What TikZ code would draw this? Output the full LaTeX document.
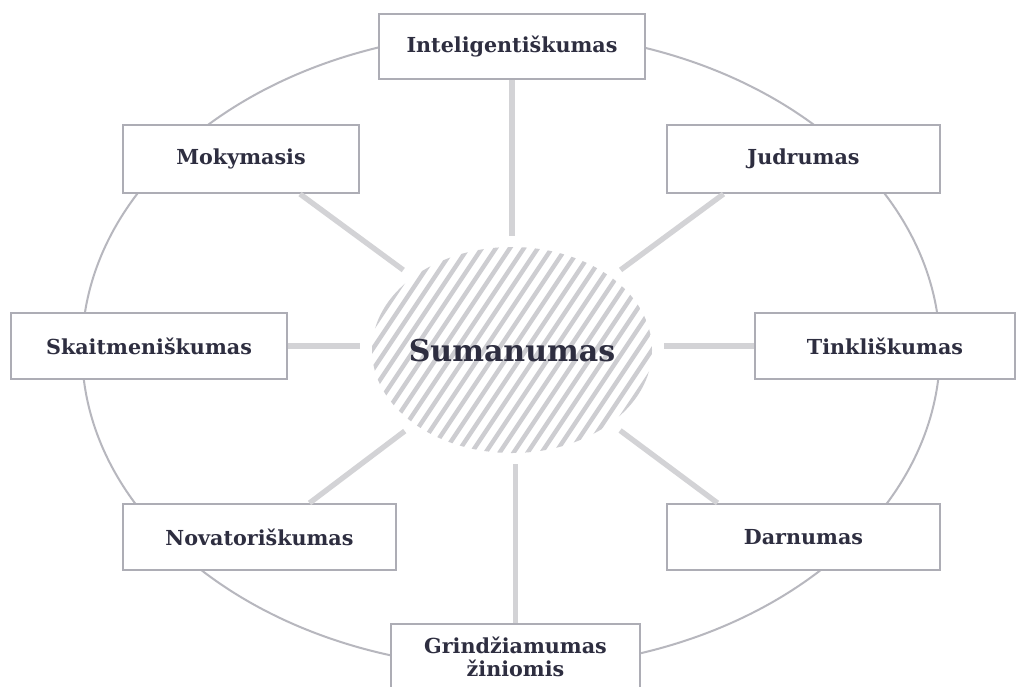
\documentclass[tikz,border=0pt]{standalone}
\usepackage{fontspec}
\setmainfont{DejaVu Serif}
\usetikzlibrary{shapes.geometric,calc}
\definecolor{ringgray}{HTML}{B7B7BE}
\definecolor{boxgray}{HTML}{ADADB5}
\definecolor{spoke}{HTML}{D3D3D6}
\definecolor{stripe}{HTML}{CDCDD1}
\definecolor{ink}{HTML}{2E2E40}
\begin{document}
\begin{tikzpicture}[x=0.75pt,y=-0.75pt,
  box/.style={draw=boxgray, line width=1.5pt, fill=white, inner sep=0pt,
    minimum height=49.5pt, text=ink, align=center,
    font=\bfseries\fontsize{15.5}{17}\selectfont},
  spokeline/.style={draw=spoke, line width=4pt},
  hublabel/.style={text=ink, font=\bfseries\fontsize{22.5}{26}\selectfont}]
\useasboundingbox (0,0) rectangle (1020,686);
\fill[white] (0,0) rectangle (1020,686);

% outer ring
\draw[ringgray, line width=1.5pt] (511,350) ellipse [x radius=429, y radius=318];

% hub: invisible spacer ellipse that the spokes stop at, then the hatched disc
\node[ellipse, minimum width=228pt, minimum height=171pt, inner sep=0pt] (gap) at (512,350) {};
\begin{scope}
  \clip (512,350) ellipse [x radius=140, y radius=103];
  \foreach \k in {-30,...,30}
    \draw[stripe, line width=3.3pt] (512+\k*14-80,470) -- (512+\k*14+80,230);
\end{scope}
\node[hublabel] (hub) at (512,351) {Sumanumas};

% satellite boxes
\node[box, minimum width=199.5pt, minimum height=48.75pt] (intel) at (512,46.5) {Inteligentiškumas};
\node[box, minimum width=177pt, minimum height=51pt] (mok) at (241,159) {Mokymasis};
\node[box, minimum width=204.75pt, minimum height=51pt] (jud) at (803.5,159) {Judrumas};
\node[box, minimum width=207pt] (skait) at (149,346) {Skaitmeniškumas};
\node[box, minimum width=195pt] (tink) at (885,346) {Tinkliškumas};
\node[box, minimum width=204.75pt] (nov) at (259.5,537) {Novatoriškumas};
\node[box, minimum width=204.75pt] (darn) at (803.5,537) {Darnumas};
\node[box, minimum width=186.75pt, anchor=north] (grin) at (515.5,623) {Grindžiamumas\\žiniomis};

% spoke start points on the box edges
\coordinate (mokS) at ($(mok.south)+(59,0)$);
\coordinate (judS) at ($(jud.south)+(-80,0)$);
\coordinate (novN) at ($(nov.north)+(50,0)$);
\coordinate (darnN) at ($(darn.north)+(-86,0)$);

% spokes
\draw[spokeline] (intel.south) -- (intel.south |- gap.north);
\draw[spokeline] (grin.north) -- (grin.north |- gap.south);
\draw[spokeline] (skait.east) -- (gap.west |- skait.east);
\draw[spokeline] (tink.west) -- (gap.east |- tink.west);
\draw[spokeline] (mokS) -- (gap);
\draw[spokeline] (judS) -- (gap);
\draw[spokeline] (novN) -- (gap);
\draw[spokeline] (darnN) -- (gap);
\end{tikzpicture}
\end{document}
